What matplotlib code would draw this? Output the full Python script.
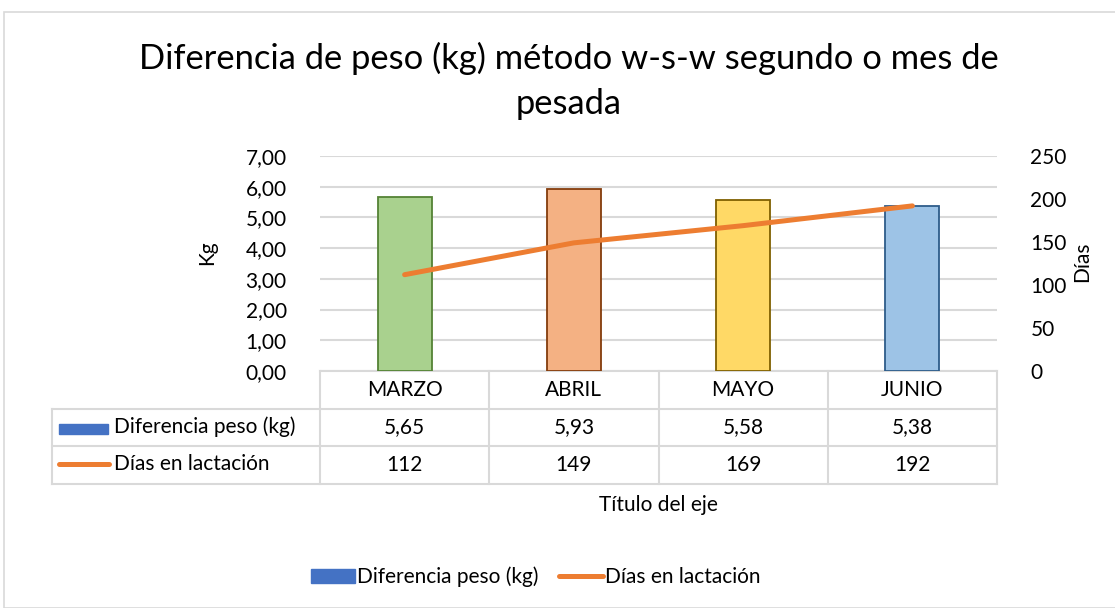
import matplotlib.pyplot as plt
import matplotlib.patches as mpatches
from matplotlib.lines import Line2D
import matplotlib.transforms as mtrans

plt.rcParams['font.family'] = ['Lato', 'DejaVu Sans']

meses = ['MARZO', 'ABRIL', 'MAYO', 'JUNIO']
dif_peso = [5.65, 5.93, 5.58, 5.38]
dias_lact = [112, 149, 169, 192]
kg_ticks = [0, 1, 2, 3, 4, 5, 6, 7]
dias_ticks = [0, 50, 100, 150, 200, 250]

bar_fill = ['#A9D18E', '#F4B183', '#FFD966', '#9DC3E6']
bar_edge = ['#548235', '#843C0C', '#7F6000', '#2E5C8A']
azul = '#4472C4'
naranja = '#ED7D31'
gris = '#D9D9D9'
fs = 15

W, H = 1115, 608
fig = plt.figure(figsize=(W / 100, H / 100), dpi=100)

# borde del grafico
fig.patches.append(mpatches.Rectangle((4 / W, 0), 1.2, 1 - 12 / H, transform=fig.transFigure,
                                      fill=False, edgecolor=gris, linewidth=1.2))

ax = fig.add_axes([320 / W, 1 - 371 / H, (997 - 320) / W, (371 - 156) / H])
x = list(range(len(meses)))
ax.bar(x, dif_peso, width=0.32, color=bar_fill, edgecolor=bar_edge, linewidth=1.3, zorder=3)
ax.set_xlim(-0.5, len(meses) - 0.5)
ax.set_ylim(0, 7)
ax.set_yticks(kg_ticks)
ax.set_yticklabels([f'{v:.2f}'.replace('.', ',') for v in kg_ticks], fontsize=fs)
ax.set_xticks([])
ax.tick_params(axis='y', length=0, pad=24)
ax.grid(axis='y', color=gris, linewidth=1.5, zorder=0)
for s in ax.spines.values():
    s.set_visible(False)

ax2 = ax.twinx()
ax2.plot(x, dias_lact, color=naranja, linewidth=3.6, solid_capstyle='round', zorder=4)
ax2.set_ylim(0, 250)
ax2.set_yticks(dias_ticks)
ax2.set_yticklabels([str(v) for v in dias_ticks], fontsize=fs)
ax2.tick_params(axis='y', length=0, pad=24)
for s in ax2.spines.values():
    s.set_visible(False)

# tabla de datos
tr = mtrans.blended_transform_factory(ax.transData, ax.transAxes)
row_h = 37.7 / (371 - 156)
x_left = -0.5 - (320 - 52) / ((997 - 320) / 4)
x_right = len(meses) - 0.5
tops = [0, -row_h, -2 * row_h, -3 * row_h]
kw = dict(color=gris, linewidth=1.5, transform=tr, clip_on=False)
ax.add_line(Line2D([-0.5, x_right], [0, 0], **kw))
for yy in tops[1:]:
    ax.add_line(Line2D([x_left, x_right], [yy, yy], **kw))
ax.add_line(Line2D([x_left, x_left], [tops[1], tops[3]], **kw))
for i in range(len(meses) + 1):
    ax.add_line(Line2D([i - 0.5, i - 0.5], [0, tops[3]], **kw))
for i, m in enumerate(meses):
    ax.text(i, -0.5 * row_h, m, ha='center', va='center', fontsize=fs, transform=tr)
    ax.text(i, -1.5 * row_h, f'{dif_peso[i]:.2f}'.replace('.', ','), ha='center', va='center',
            fontsize=fs, transform=tr)
    ax.text(i, -2.5 * row_h, str(dias_lact[i]), ha='center', va='center', fontsize=fs, transform=tr)

# claves de leyenda en la tabla
fig.patches.append(mpatches.Rectangle((59 / W, 1 - 434 / H), 49 / W, 10 / H,
                                      transform=fig.transFigure, color=azul))
fig.lines.append(Line2D([59 / W, 109 / W], [1 - 464 / H] * 2, transform=fig.transFigure,
                        color=naranja, linewidth=3.6, solid_capstyle='round'))
fig.text(114 / W, 1 - 427 / H, 'Diferencia peso (kg)', ha='left', va='center', fontsize=fs)
fig.text(114 / W, 1 - 464 / H, 'Días en lactación', ha='left', va='center', fontsize=fs)

# titulos
fig.text(569 / W, 1 - 81 / H, 'Diferencia de peso (kg) método w-s-w segundo o mes de\npesada',
         ha='center', va='center', fontsize=24.8, linespacing=1.5)
fig.text(207 / W, 1 - 253 / H, 'Kg', rotation=90, ha='center', va='center', fontsize=fs)
fig.text(1082 / W, 1 - 262 / H, 'Días', rotation=90, ha='center', va='center', fontsize=fs)
fig.text(658 / W, 1 - 505 / H, 'Título del eje', ha='center', va='center', fontsize=fs)

# leyenda inferior
handles = [mpatches.Patch(color=azul, label='Diferencia peso (kg)'),
           Line2D([], [], color=naranja, linewidth=3.6, solid_capstyle='round',
                  label='Días en lactación')]
fig.legend(handles=handles, loc='center', bbox_to_anchor=(536 / W, 1 - 577 / H), ncol=2,
           frameon=False, fontsize=fs, handlelength=2.1, handletextpad=0.1, columnspacing=1.0)

fig.savefig('out.png', dpi=100)
